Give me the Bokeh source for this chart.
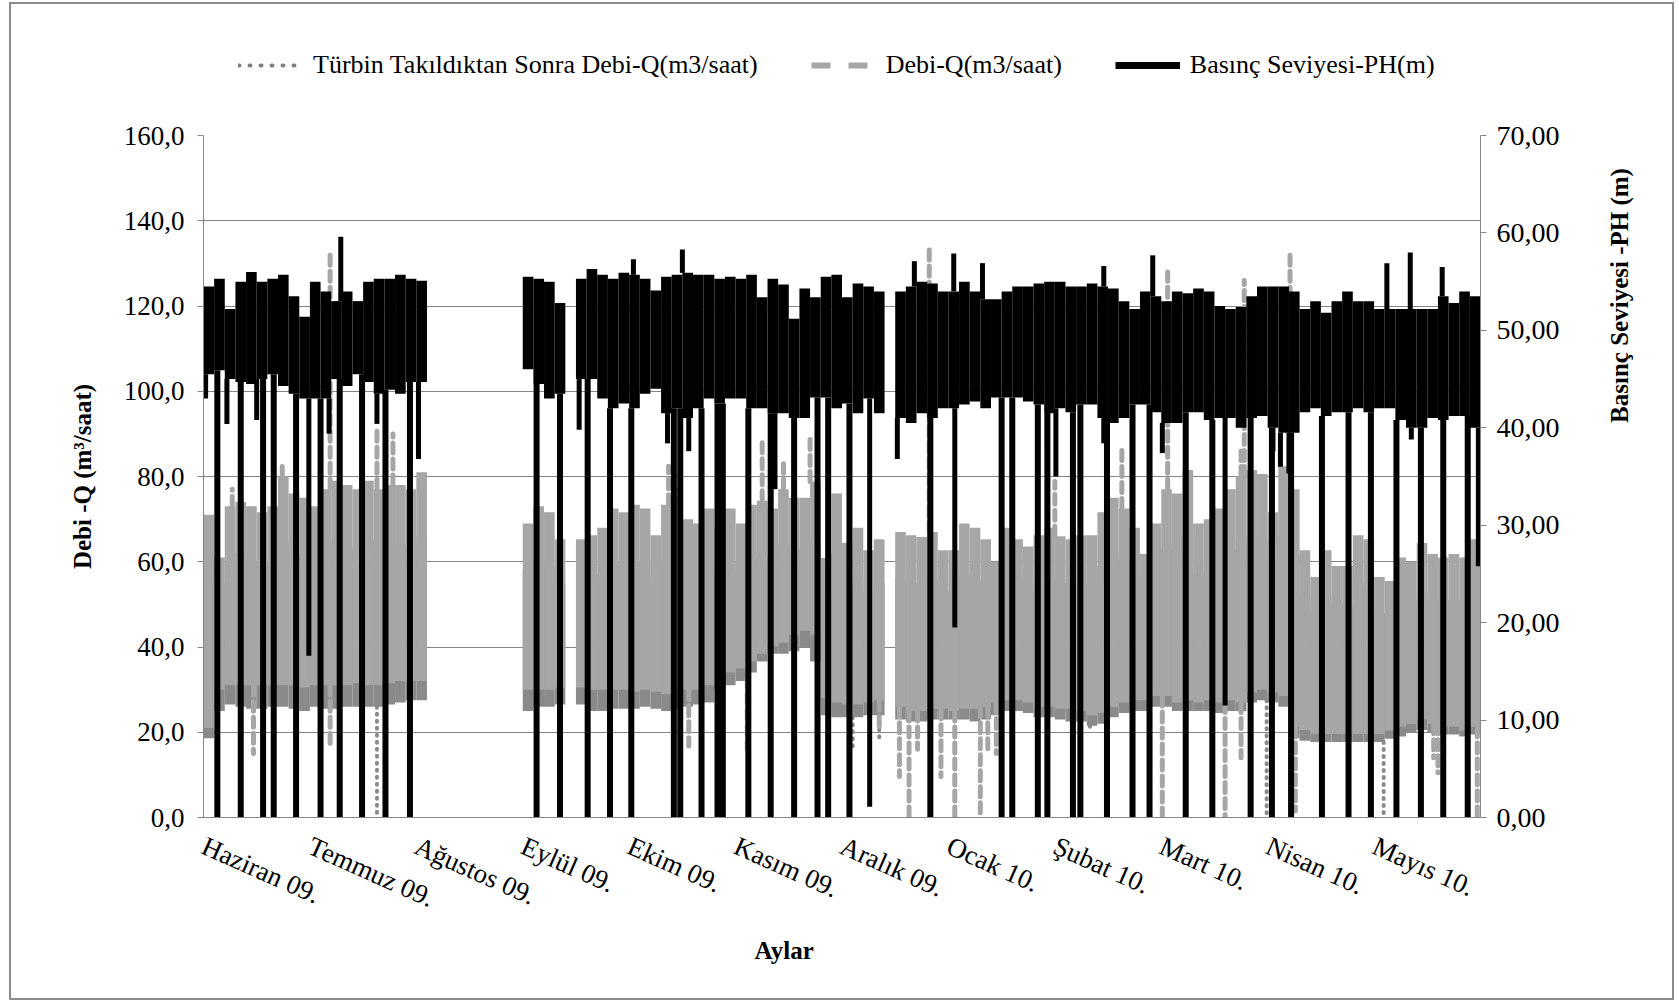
import numpy as np
from bokeh.plotting import figure
from bokeh.layouts import column, row
from bokeh.models import (Range1d, LinearAxis, FixedTicker, Legend, LegendItem,
                          Title, Label, ColumnDataSource)
from bokeh.embed import file_html
from bokeh.resources import INLINE

nan = float("nan")

# ---------------------------------------------------------------- axes
month_ticks = list(range(12))
month_labels = ["Haziran 09.", "Temmuz 09.", "Ağustos 09.", "Eylül 09.", "Ekim 09.",
                "Kasım 09.", "Aralık 09.", "Ocak 10.", "Şubat 10.", "Mart 10.",
                "Nisan 10.", "Mayıs 10."]
q_ticks = [0, 20, 40, 60, 80, 100, 120, 140, 160]
q_tick_labels = ["0,0", "20,0", "40,0", "60,0", "80,0", "100,0", "120,0", "140,0", "160,0"]
ph_ticks = [0, 10, 20, 30, 40, 50, 60, 70]
ph_tick_labels = ["0,00", "10,00", "20,00", "30,00", "40,00", "50,00", "60,00", "70,00"]

# ---------------------------------------------------------------- data
# Hourly records summarised in bins of 0.1 month (x = months since June 2009):
# lower and upper envelope of each series per bin, nan = no record.
BIN = 0.1
N_BINS = 120

# Basınç Seviyesi - PH (m)
ph_hi = [54.5, 55.3, 52.2, 55.0, 56.0, 55.0, 55.3, 55.7, 53.5, 51.4,
         55.0, 54.0, 53.0, 54.0, 53.0, 55.0, 55.3, 55.3, 55.7, 55.3,
         55.1, nan, nan, nan, nan, nan, nan, nan, nan, nan,
         55.5, 55.3, 55.0, 52.8, nan, 55.3, 56.3, 55.7, 55.3, 55.9,
         55.7, 55.3, 54.1, 55.5, 55.7, 55.9, 55.7, 55.7, 55.3, 55.5,
         55.3, 55.7, 53.4, 55.3, 54.7, 51.2, 54.3, 53.4, 55.5, 55.7,
         53.4, 54.8, 54.5, 54.0, nan, 54.0, 54.5, 55.0, 54.8, 54.0,
         54.0, 55.0, 54.0, 53.2, 53.2, 54.0, 54.5, 54.5, 54.8, 55.0,
         55.0, 54.5, 54.5, 54.8, 54.5, 54.3, 53.0, 52.2, 54.0, 53.5,
         53.0, 54.0, 53.8, 54.3, 54.0, 52.5, 52.2, 52.4, 53.5, 54.5,
         54.5, 54.5, 54.0, 52.2, 53.0, 51.8, 53.0, 54.0, 53.0, 53.0,
         52.2, 52.2, 52.2, 52.2, 52.2, 52.2, 53.5, 52.8, 54.0, 53.5]
ph_lo = [45.5, 45.9, 45.0, 44.7, 44.5, 45.0, 45.5, 44.3, 43.5, 43.0,
         43.0, 43.0, 45.0, 44.3, 45.5, 44.7, 43.5, 43.9, 43.5, 44.7,
         44.7, nan, nan, nan, nan, nan, nan, nan, nan, nan,
         46.0, 44.5, 43.0, 43.5, nan, 45.0, 45.0, 43.0, 42.0, 42.5,
         42.0, 43.5, 44.0, 41.5, 42.0, 41.0, 42.0, 43.0, 42.5, 43.0,
         43.0, 42.0, 42.0, 41.5, 41.5, 41.0, 41.0, 43.1, 43.1, 42.0,
         42.5, 41.5, 43.0, 41.5, nan, 41.0, 40.5, 41.5, 41.0, 42.0,
         42.0, 42.4, 42.7, 42.0, 43.1, 43.1, 43.1, 42.7, 42.4, 41.5,
         42.0, 41.6, 42.4, 42.4, 41.0, 40.5, 41.0, 42.4, 42.4, 41.6,
         40.5, 40.5, 41.6, 41.6, 40.8, 41.0, 41.0, 40.0, 41.0, 41.2,
         40.0, 39.5, 39.5, 41.6, 42.0, 41.2, 41.6, 41.6, 42.0, 41.6,
         42.0, 42.0, 40.8, 40.0, 40.0, 41.0, 40.8, 41.2, 41.2, 40.0]
# pressure falling to zero (pump stops)
ph_zero_x = [0.13, 0.35, 0.56, 0.66, 0.87, 1.10, 1.28, 1.49, 1.71, 1.94,
             3.13, 3.35, 3.61, 3.82, 4.02, 4.42, 4.48, 4.68, 4.83, 4.88,
             5.12, 5.33, 5.55, 5.77, 5.87, 6.07, 6.83, 7.50, 7.60, 7.84,
             7.93, 8.17, 8.24, 8.49, 8.73, 8.89, 9.23, 9.48, 9.84, 10.04,
             10.22, 10.51, 10.76, 10.97, 11.21, 11.44, 11.65, 11.88]
# single peaks and dips outside the envelope
ph_spike_x = [1.29, 4.04, 4.50, 6.68, 7.05, 7.32, 8.46, 8.92, 11.12, 11.34, 11.64,
              0.02, 0.22, 0.50, 0.99, 1.18, 1.63, 2.02, 3.53, 4.36, 4.56, 5.37,
              6.26, 6.52, 7.06, 7.93, 8.01, 8.46, 9.01, 9.60, 10.05, 10.12, 10.20,
              11.35, 11.98]
ph_spike_y = [59.6, 57.3, 58.3, 57.1, 57.9, 56.9, 56.6, 57.7, 56.9, 58.0, 56.5,
              43.0, 40.4, 40.8, 16.6, 39.4, 40.4, 36.8, 39.8, 38.4, 37.6, 33.7,
              1.1, 36.8, 19.5, 38.0, 35.0, 38.4, 37.4, 11.5, 37.6, 36.0, 35.3,
              38.8, 25.8]

# Debi - Q (m3/saat)
q_hi = [71.0, 61.0, 73.0, 74.0, 73.0, 71.6, 73.0, 80.0, 76.0, 75.0,
        73.0, 77.0, 79.0, 78.0, 77.0, 79.0, 77.0, 78.0, 78.0, 77.0,
        81.0, nan, nan, nan, nan, nan, nan, nan, nan, nan,
        69.0, 73.0, 71.6, 65.3, nan, 65.3, 66.2, 68.0, 72.5, 71.6,
        73.4, 72.5, 66.2, 73.4, 72.5, 70.0, 69.0, 72.5, 68.0, 72.5,
        69.0, 73.4, 74.3, 72.5, 77.0, 75.0, 75.0, 78.8, 60.9, 76.0,
        64.4, 68.0, 62.7, 65.3, nan, 67.0, 66.2, 65.8, 67.0, 62.7,
        62.7, 69.0, 68.0, 65.3, 60.0, 68.0, 65.3, 63.6, 66.2, 68.0,
        66.0, 65.3, 66.2, 66.2, 71.6, 75.0, 72.5, 68.0, 61.8, 69.0,
        77.0, 76.0, 81.5, 69.0, 70.0, 72.5, 77.0, 80.0, 81.5, 80.6,
        71.6, 82.4, 77.0, 62.7, 56.4, 62.7, 59.0, 59.0, 66.2, 65.3,
        56.4, 55.5, 61.0, 60.0, 64.4, 61.8, 61.0, 61.8, 61.0, 65.3]
q_lo = [21.0, 30.0, 31.0, 31.0, 31.0, 31.0, 31.0, 31.0, 31.0, 30.5,
        31.0, 31.0, 31.0, 31.0, 31.5, 31.0, 31.0, 31.5, 32.0, 32.0,
        32.0, nan, nan, nan, nan, nan, nan, nan, nan, nan,
        30.0, 30.0, 30.0, 30.5, nan, 30.5, 30.0, 30.0, 30.0, 30.0,
        29.5, 30.0, 29.5, 29.0, 30.0, 30.0, 30.0, 31.0, 33.0, 34.0,
        35.0, 36.6, 38.4, 40.2, 41.0, 42.9, 43.8, 42.9, 28.0, 27.0,
        26.5, 26.5, 27.0, 27.5, nan, 26.0, 25.0, 25.0, 25.5, 25.5,
        25.0, 25.5, 25.5, 26.0, 27.0, 27.5, 27.5, 27.0, 26.0, 26.0,
        25.5, 25.5, 25.0, 24.0, 24.5, 26.0, 27.0, 27.5, 27.5, 28.5,
        28.5, 27.0, 27.5, 27.0, 27.5, 27.0, 27.5, 27.0, 29.4, 30.0,
        29.4, 28.5, 21.3, 20.5, 19.6, 19.6, 19.6, 19.6, 19.6, 19.6,
        19.6, 20.4, 21.3, 22.0, 23.0, 22.0, 21.3, 21.3, 20.4, 21.3]
q_spike_x = [0.27, 0.74, 1.19, 1.63, 1.78, 4.37, 4.44, 5.25, 5.45, 5.70, 6.82,
             8.00, 8.63, 9.06, 9.75, 9.78, 10.21,
             0.47, 1.19, 4.56, 5.11, 6.35, 6.54, 6.63, 6.71, 6.83, 6.93, 7.06,
             7.30, 7.37, 7.45, 7.93, 9.01, 9.60, 9.75, 10.26, 11.56, 11.60, 11.97]
q_spike_y = [77.0, 83.0, 132.0, 92.0, 90.0, 82.4, 77.0, 88.0, 83.0, 89.6, 134.0,
             78.8, 87.0, 128.0, 86.0, 126.0, 133.0,
             15.0, 16.8, 16.8, 16.0, 20.4, 9.6, 0.0, 16.0, 14.0, 9.6, 0.0,
             0.0, 16.0, 15.0, 12.3, 0.0, 0.0, 14.0, 1.5, 14.0, 10.5, 0.0]

# Türbin takıldıktan sonra Debi - Q (m3/saat)
qt_hi = [60.0, 55.0, 60.0, 62.0, 60.0, 60.0, 60.0, 65.0, 62.0, 62.0,
         60.0, 63.0, 65.0, 64.0, 63.0, 65.0, 63.0, 64.0, 64.0, 63.0,
         66.0, nan, nan, nan, nan, nan, nan, nan, nan, nan,
         58.0, 60.0, 59.0, 55.0, nan, 55.0, 56.0, 57.0, 60.0, 59.0,
         60.0, 60.0, 56.0, 60.0, 60.0, 58.0, 57.0, 60.0, 57.0, 60.0,
         58.0, 61.0, 62.0, 61.0, 64.0, 63.0, 63.0, 65.0, 52.0, 62.0,
         54.0, 56.0, 53.0, 55.0, nan, 56.0, 55.0, 55.0, 56.0, 53.0,
         53.0, 57.0, 56.0, 55.0, 51.0, 56.0, 55.0, 53.0, 55.0, 56.0,
         55.0, 55.0, 55.0, 55.0, 59.0, 62.0, 60.0, 57.0, 52.0, 57.0,
         63.0, 62.0, 66.0, 57.0, 58.0, 60.0, 63.0, 65.0, 66.0, 65.0,
         59.0, 66.0, 62.0, 52.0, 48.0, 52.0, 50.0, 50.0, 55.0, 54.0,
         48.0, 47.0, 51.0, 50.0, 53.0, 51.0, 51.0, 51.0, 51.0, 54.0]
qt_lo = [18.6, 25.0, 26.5, 26.0, 25.5, 25.5, 26.0, 26.0, 25.5, 25.0,
         26.0, 25.5, 25.5, 26.0, 26.0, 26.0, 26.0, 26.5, 27.0, 27.5,
         27.5, nan, nan, nan, nan, nan, nan, nan, nan, nan,
         25.0, 26.0, 26.0, 26.5, nan, 26.5, 25.0, 25.0, 25.5, 25.5,
         25.5, 26.0, 25.5, 25.0, 25.5, 26.0, 26.5, 27.0, 30.0, 31.0,
         32.0, 34.0, 36.6, 38.4, 38.4, 39.0, 40.0, 36.6, 24.0, 23.5,
         23.5, 23.5, 24.0, 24.0, nan, 23.0, 22.5, 22.5, 23.0, 23.0,
         23.0, 23.0, 22.5, 23.0, 24.0, 25.0, 25.0, 24.5, 23.5, 23.5,
         23.0, 22.5, 22.5, 21.5, 22.0, 23.5, 24.5, 25.0, 25.0, 26.0,
         26.0, 25.0, 25.0, 25.0, 25.0, 24.5, 25.0, 25.0, 27.0, 27.5,
         27.0, 26.0, 18.6, 18.0, 17.7, 17.7, 17.7, 17.7, 17.7, 17.7,
         17.7, 18.5, 19.0, 20.0, 20.5, 20.0, 19.5, 19.5, 19.0, 19.5]
qt_spike_x = [1.63, 6.10, 6.35, 8.33, 9.99, 11.09]
qt_spike_y = [0.0, 16.0, 18.0, 20.0, 0.0, 1.0]

# ---------------------------------------------------------------- helpers
bin_left = np.arange(N_BINS) * BIN


def band_source(lo, hi):
    return ColumnDataSource(dict(left=bin_left, right=bin_left + BIN,
                                 bottom=np.array(lo, float), top=np.array(hi, float)))


def spike_source(xs, ys, lo, hi):
    lo = np.array(lo, float)
    hi = np.array(hi, float)
    xs = np.array(xs, float)
    ys = np.array(ys, float)
    idx = np.clip((xs / BIN).astype(int), 0, N_BINS - 1)
    start = np.where(ys < lo[idx], lo[idx], hi[idx])
    start = np.where(np.isnan(start), ys, start)
    return ColumnDataSource(dict(x=xs, y0=start, y1=ys))


FONT = "Liberation Serif"
GRID = "#868686"
C_TURBIN = "#8a8a8a"
C_DEBI = "#a6a6a6"
C_PH = "#000000"

W, H = 1661, 994          # inside the grey chart border
H_TOP = 111               # strip holding the legend
W_TITLE = 82              # strip holding the right-hand axis title
W_MAIN = W - W_TITLE
H_MAIN = H - H_TOP


def blank_figure(width, height):
    f = figure(width=width, height=height, output_backend="svg", toolbar_location=None,
               x_range=Range1d(0, 1), y_range=Range1d(0, 1),
               x_axis_type=None, y_axis_type=None,
               min_border_left=0, min_border_right=0, min_border_top=0, min_border_bottom=0)
    f.outline_line_color = None
    f.xgrid.visible = False
    f.ygrid.visible = False
    f.border_fill_color = "white"
    f.background_fill_color = "white"
    return f


# ---------------------------------------------------------------- main chart
p = figure(width=W_MAIN, height=H_MAIN, output_backend="svg", toolbar_location=None,
           x_range=Range1d(0, 12), y_range=Range1d(0, 160),
           min_border_left=192, min_border_right=110,
           min_border_top=20, min_border_bottom=181)
p.extra_y_ranges = {"ph": Range1d(0, 70)}
p.outline_line_color = None
p.background_fill_color = "white"
p.border_fill_color = "white"

# Türbin sonrası debi (drawn first, lies underneath)
p.quad(source=band_source(qt_lo, qt_hi), left="left", right="right",
       bottom="bottom", top="top", fill_color=C_TURBIN, line_color=None)
p.segment(source=spike_source(qt_spike_x, qt_spike_y, qt_lo, qt_hi),
          x0="x", y0="y0", x1="x", y1="y1", line_color=C_TURBIN,
          line_width=4, line_dash="1 6", line_cap="round")

# Debi
p.quad(source=band_source(q_lo, q_hi), left="left", right="right",
       bottom="bottom", top="top", fill_color=C_DEBI, line_color=None)
p.segment(source=spike_source(q_spike_x, q_spike_y, q_lo, q_hi),
          x0="x", y0="y0", x1="x", y1="y1", line_color=C_DEBI,
          line_width=5, line_dash="10 6", line_cap="round")

# Basınç seviyesi (secondary axis)
p.quad(source=band_source(ph_lo, ph_hi), left="left", right="right",
       bottom="bottom", top="top", fill_color=C_PH, line_color=None,
       y_range_name="ph")
p.segment(source=spike_source(ph_spike_x, ph_spike_y, ph_lo, ph_hi),
          x0="x", y0="y0", x1="x", y1="y1", line_color=C_PH, line_width=5,
          y_range_name="ph")
p.segment(source=spike_source(ph_zero_x, [0.0] * len(ph_zero_x), ph_lo, ph_hi),
          x0="x", y0="y0", x1="x", y1="y1", line_color=C_PH, line_width=6,
          y_range_name="ph")

xa = p.xaxis[0]
xa.ticker = FixedTicker(ticks=month_ticks)
xa.major_label_overrides = {t: s for t, s in zip(month_ticks, month_labels)}
xa.major_label_orientation = -0.42
xa.major_label_text_font = FONT
xa.major_label_text_font_size = "27px"
xa.major_label_text_color = "black"
xa.major_label_standoff = 27
xa.major_tick_out = 0
xa.major_tick_in = 0
xa.minor_tick_out = 0
xa.minor_tick_in = 0
xa.axis_line_color = GRID

ya = p.yaxis[0]
ya.ticker = FixedTicker(ticks=q_ticks)
ya.major_label_overrides = {t: s for t, s in zip(q_ticks, q_tick_labels)}
ya.major_label_text_font = FONT
ya.major_label_text_font_size = "27px"
ya.major_label_text_color = "black"
ya.major_label_standoff = 13
ya.major_tick_out = 6
ya.major_tick_in = 0
ya.minor_tick_out = 0
ya.minor_tick_in = 0
ya.axis_line_color = GRID
ya.major_tick_line_color = GRID
ya.axis_label = "Debi -Q (m³/saat)"
ya.axis_label_standoff = 25
ya.axis_label_text_font = FONT
ya.axis_label_text_font_style = "bold"
ya.axis_label_text_font_size = "25px"
ya.axis_label_text_color = "black"

ra = LinearAxis(y_range_name="ph")
ra.ticker = FixedTicker(ticks=ph_ticks)
ra.major_label_overrides = {t: s for t, s in zip(ph_ticks, ph_tick_labels)}
ra.major_label_text_font = FONT
ra.major_label_text_font_size = "28px"
ra.major_label_text_color = "black"
ra.major_label_standoff = 10
ra.major_tick_out = 6
ra.major_tick_in = 0
ra.minor_tick_out = 0
ra.minor_tick_in = 0
ra.axis_line_color = GRID
ra.major_tick_line_color = GRID
p.add_layout(ra, "right")

p.xgrid.visible = False
p.ygrid.ticker = FixedTicker(ticks=q_ticks)
p.ygrid.grid_line_color = GRID
p.ygrid.grid_line_width = 1

# x axis title, slightly left of the frame centre
p.add_layout(Title(text="Aylar", align="left", offset=551, text_font=FONT,
                   text_font_style="bold", text_font_size="25px",
                   text_color="black", standoff=10), "below")

# ---------------------------------------------------------------- right title strip
rt = blank_figure(W_TITLE, H_MAIN)
rt.add_layout(Label(x=29, y=522, x_units="screen", y_units="screen",
                    text="Basınç Seviyesi -PH (m)", angle=np.pi / 2,
                    text_font=FONT, text_font_style="bold", text_font_size="25px",
                    text_color="black", text_align="center", text_baseline="middle"))

# ---------------------------------------------------------------- legend strip
# one unplotted (nan) row per series so that the legend has a glyph to show
lg = blank_figure(W, H_TOP)


def key_source():
    return ColumnDataSource(dict(x=[nan], y0=[nan], y1=[nan]))


l_turbin = lg.segment(source=key_source(), x0="x", y0="y0", x1="x", y1="y1",
                      line_color="#7f7f7f", line_width=4, line_dash="1 10",
                      line_cap="round")
l_debi = lg.segment(source=key_source(), x0="x", y0="y0", x1="x", y1="y1",
                    line_color=C_DEBI, line_width=6, line_dash="19 18")
l_ph = lg.segment(source=key_source(), x0="x", y0="y0", x1="x", y1="y1",
                  line_color=C_PH, line_width=7)
legend = Legend(items=[
    LegendItem(label="Türbin Takıldıktan Sonra Debi-Q(m3/saat)", renderers=[l_turbin]),
    LegendItem(label="Debi-Q(m3/saat)", renderers=[l_debi]),
    LegendItem(label="Basınç Seviyesi-PH(m)", renderers=[l_ph]),
], orientation="horizontal", location=(227, 35))
legend.label_text_font = FONT
legend.label_text_font_size = "26px"
legend.label_text_color = "black"
legend.glyph_width = 65
legend.glyph_height = 30
legend.label_height = 30
legend.label_standoff = 10
legend.spacing = 53
legend.padding = 0
legend.margin = 0
legend.border_line_color = None
legend.background_fill_alpha = 0
lg.add_layout(legend)

page = column(lg, row(p, rt, spacing=0), spacing=0,
              margin=(2, 0, 0, 9), styles={"border": "2px solid #8c8c8c"})

open("out.html", "w").write(file_html(page, INLINE))
